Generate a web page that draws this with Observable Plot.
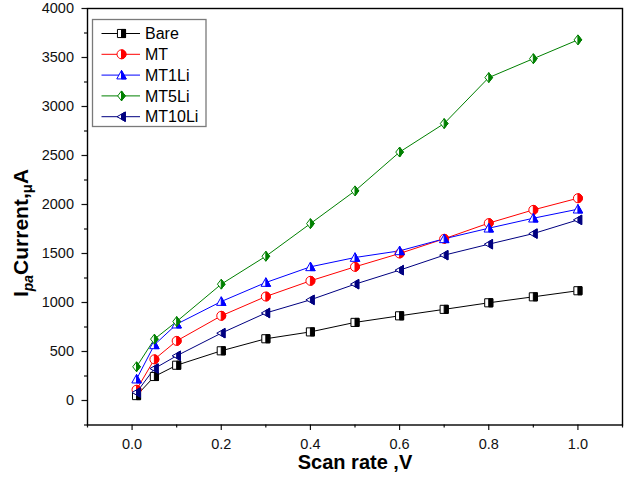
<!DOCTYPE html>
<html><head><meta charset="utf-8">
<script src="https://cdn.jsdelivr.net/npm/d3@7"></script>
<script src="https://cdn.jsdelivr.net/npm/@observablehq/plot@0.6"></script>
<style>body{margin:0;background:#fff;}</style>
</head><body><div id="chart"></div>
<script>
const scanRate = [0.01,0.05,0.1,0.2,0.3,0.4,0.5,0.6,0.7,0.8,0.9,1.0];
const bare   = [50,245,360,507,630,700,797,864,930,997,1058,1120];
const mt     = [110,420,608,864,1061,1221,1364,1500,1650,1810,1945,2064];
const mt1li  = [218,568,779,1010,1204,1364,1459,1527,1650,1758,1860,1952];
const mt5li  = [344,626,806,1187,1472,1805,2139,2535,2826,3295,3488,3680];
const mt10li = [82,326,456,687,893,1027,1187,1330,1483,1595,1703,1843];
const seriesNames = ["Bare","MT","MT1Li","MT5Li","MT10Li"];
const seriesColors = ["#000000","#ff0000","#0000ff","#008000","#000080"];
const seriesShapes = ["square","circle","triangle","diamond","triangleLeft"];
const seriesValues = [bare, mt, mt1li, mt5li, mt10li];
const xTicks = [0,0.2,0.4,0.6,0.8,1.0];
const xMinor = [-0.1,0.1,0.3,0.5,0.7,0.9,1.1];
const yTicks = [0,500,1000,1500,2000,2500,3000,3500,4000];
const yMinor = [-250,250,750,1250,1750,2250,2750,3250,3750];

const FONT = "'Liberation Sans', Arial, Helvetica, sans-serif";
const R = 4.5;

function sym(kind, half) {
  return { draw(ctx, size) {
    const r = Math.sqrt(size / Math.PI);
    if (kind === "square") {
      const s = r * 0.9;
      if (half) ctx.rect(0, -s, s, 2 * s); else ctx.rect(-s, -s, 2 * s, 2 * s);
    } else if (kind === "circle") {
      if (half) { ctx.moveTo(0, -r); ctx.arc(0, 0, r, -Math.PI / 2, Math.PI / 2); ctx.closePath(); }
      else { ctx.moveTo(r, 0); ctx.arc(0, 0, r, 0, 2 * Math.PI); ctx.closePath(); }
    } else if (kind === "triangle") {
      if (half) { ctx.moveTo(0, -1.05 * r); ctx.lineTo(1.05 * r, 0.85 * r); ctx.lineTo(0, 0.85 * r); ctx.closePath(); }
      else { ctx.moveTo(0, -1.05 * r); ctx.lineTo(1.05 * r, 0.85 * r); ctx.lineTo(-1.05 * r, 0.85 * r); ctx.closePath(); }
    } else if (kind === "diamond") {
      if (half) { ctx.moveTo(0, -1.1 * r); ctx.lineTo(0.85 * r, 0); ctx.lineTo(0, 1.1 * r); ctx.closePath(); }
      else { ctx.moveTo(0, -1.1 * r); ctx.lineTo(0.85 * r, 0); ctx.lineTo(0, 1.1 * r); ctx.lineTo(-0.85 * r, 0); ctx.closePath(); }
    } else if (kind === "triangleLeft") {
      const k = 1.0 / 1.85 * 1.05;
      if (half) { ctx.moveTo(0, -k * r); ctx.lineTo(0.85 * r, -1.05 * r); ctx.lineTo(0.85 * r, 1.05 * r); ctx.lineTo(0, k * r); ctx.closePath(); }
      else { ctx.moveTo(-r, 0); ctx.lineTo(0.85 * r, -1.05 * r); ctx.lineTo(0.85 * r, 1.05 * r); ctx.closePath(); }
    }
  }};
}

const rows = seriesNames.flatMap((name, i) => scanRate.map((x, j) => ({series: name, x, y: seriesValues[i][j]})));

const dotMarks = seriesNames.flatMap((name, i) => {
  const data = rows.filter(d => d.series === name);
  return [
    Plot.dot(data, {x: "x", y: "y", symbol: sym(seriesShapes[i], false), r: R, fill: "white", stroke: seriesColors[i], strokeWidth: 1}),
    Plot.dot(data, {x: "x", y: "y", symbol: sym(seriesShapes[i], true), r: R, fill: seriesColors[i], stroke: seriesColors[i], strokeWidth: 1})
  ];
});

const plot = Plot.plot({
  width: 629, height: 492,
  marginLeft: 87, marginRight: 7, marginTop: 8, marginBottom: 67.5,
  x: {domain: [-0.1, 1.1], label: null},
  y: {domain: [-250, 4000], label: null},
  color: {domain: seriesNames, range: seriesColors},
  style: {fontFamily: FONT, fontSize: "14.5px", color: "#111", background: "#fff"},
  marks: [
    Plot.axisX(xMinor, {tickSize: 3, tickFormat: () => "", label: null, strokeWidth: 1.2}),
    Plot.axisX(xTicks, {tickSize: 5.5, tickPadding: 8, tickFormat: d => d.toFixed(1), label: null, strokeWidth: 1.2}),
    Plot.axisY(yMinor, {tickSize: 3, tickFormat: () => "", label: null, strokeWidth: 1.2}),
    Plot.axisY(yTicks, {tickSize: 5.5, tickPadding: 8, tickFormat: d => String(d), label: null, strokeWidth: 1.2}),
    Plot.frame({stroke: "#000", strokeWidth: 1.4}),
    Plot.line(rows, {x: "x", y: "y", z: "series", stroke: "series", strokeWidth: 1}),
    ...dotMarks,
    Plot.text(["Scan rate ,V"], {text: d => d, frameAnchor: "bottom", dy: 44, fontSize: 20, fontWeight: "bold", fill: "#000"})
  ]
});

const svg = d3.select(plot);

// Y axis title with subscripts
const t = svg.append("text")
  .attr("transform", "translate(28,233) rotate(-90)")
  .attr("text-anchor", "middle")
  .style("font-family", FONT).style("font-weight", "bold").style("font-size", "21px")
  .attr("fill", "#000");
t.append("tspan").text("I");
t.append("tspan").attr("dy", 5).style("font-size", "14px").style("font-style", "italic").text("pa");
t.append("tspan").attr("dy", -5).text("Current,");
t.append("tspan").attr("dy", 4).style("font-size", "15px").text("\u03bc");
t.append("tspan").attr("dy", -4).text("A");

// Legend
const lg = svg.append("g");
lg.append("rect").attr("x", 92.5).attr("y", 19.5).attr("width", 113.5).attr("height", 107)
  .attr("fill", "#fff").attr("stroke", "#7a7a7a").attr("stroke-width", 1.3);
seriesNames.forEach((name, i) => {
  const y = 33.5 + i * 20.8;
  const g = lg.append("g").attr("transform", `translate(0,${y})`);
  g.append("line").attr("x1", 101.5).attr("x2", 140).attr("y1", 0).attr("y2", 0)
    .attr("stroke", seriesColors[i]).attr("stroke-width", 1);
  const size = Math.PI * R * R;
  const pFull = d3.path(); sym(seriesShapes[i], false).draw(pFull, size);
  const pHalf = d3.path(); sym(seriesShapes[i], true).draw(pHalf, size);
  g.append("path").attr("d", pFull.toString()).attr("transform", "translate(121.5,0)")
    .attr("fill", "#fff").attr("stroke", seriesColors[i]).attr("stroke-width", 1);
  g.append("path").attr("d", pHalf.toString()).attr("transform", "translate(121.5,0)")
    .attr("fill", seriesColors[i]).attr("stroke", seriesColors[i]).attr("stroke-width", 1);
  g.append("text").attr("x", 145).attr("y", 0).attr("dy", "0.36em").attr("text-anchor", "start")
    .style("font-family", FONT).style("font-size", "16px").attr("fill", "#000").text(name);
});

document.getElementById("chart").appendChild(plot);
</script>
</body></html>
